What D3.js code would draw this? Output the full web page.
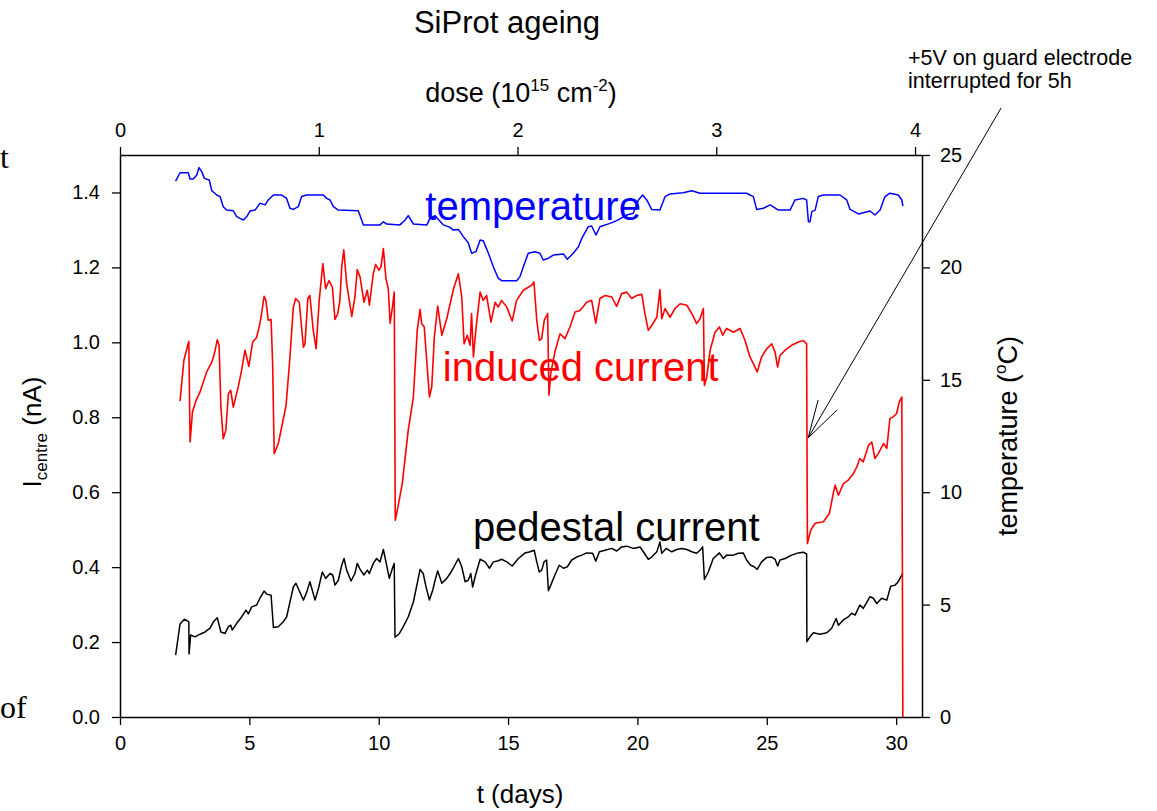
<!DOCTYPE html>
<html>
<head>
<meta charset="utf-8">
<script src="https://cdn.jsdelivr.net/npm/d3@7"></script>
<style>
  body { margin: 0; background: #fff; }
  text { font-family: "Liberation Sans", Arial, sans-serif; }
</style>
</head>
<body>
<div id="chart"></div>
<script>
// ---- data ----
// temperature (deg C) vs t (days)
var temperature = [[2.15,23.84],[2.32,24.21],[2.64,24.21],[2.71,23.93],[2.83,23.93],[2.97,24.11],[3.05,24.44],[3.16,24.26],[3.26,23.96],[3.45,23.89],[3.55,23.41],[3.74,23.22],[3.87,23.15],[3.99,22.70],[4.12,22.55],[4.38,22.52],[4.51,22.26],[4.64,22.18],[4.77,22.11],[4.90,22.26],[5.03,22.51],[5.22,22.55],[5.41,22.85],[5.61,22.78],[5.73,23.00],[5.93,23.22],[6.25,23.22],[6.44,23.07],[6.57,22.63],[6.70,22.58],[6.89,22.70],[7.02,23.15],[7.22,23.22],[7.86,23.22],[7.99,23.07],[8.12,23.00],[8.25,22.70],[8.44,22.55],[9.21,22.52],[9.41,21.89],[10.05,21.89],[10.18,22.03],[10.31,21.93],[10.82,21.89],[11.02,22.11],[11.14,22.30],[11.34,21.93],[11.86,21.89],[11.98,22.18],[12.18,22.30],[12.50,21.89],[12.76,21.78],[12.88,21.66],[13.08,21.69],[13.27,21.37],[13.46,21.10],[13.59,20.63],[13.76,20.70],[13.92,21.22],[14.04,21.19],[14.24,20.63],[14.43,20.03],[14.62,19.52],[14.75,19.41],[15.33,19.41],[15.46,19.59],[15.59,20.03],[15.78,20.63],[16.04,20.70],[16.23,20.63],[16.36,20.33],[16.56,20.41],[16.75,20.55],[17.14,20.60],[17.29,20.36],[17.52,20.63],[17.72,20.92],[17.85,21.29],[18.10,21.81],[18.23,21.84],[18.40,21.44],[18.55,21.81],[18.94,21.96],[19.20,22.08],[19.59,22.33],[19.84,22.41],[20.04,23.00],[20.20,23.22],[20.36,23.00],[20.55,22.58],[20.87,22.55],[21.07,23.15],[21.26,23.27],[21.77,23.32],[22.10,23.41],[22.42,23.30],[24.22,23.30],[24.48,23.15],[24.61,22.58],[24.87,22.63],[25.13,22.78],[25.45,22.55],[25.90,22.55],[26.09,23.00],[26.41,23.07],[26.54,23.00],[26.61,22.03],[26.67,22.03],[26.74,22.48],[26.87,22.55],[26.99,23.15],[27.19,23.22],[27.83,23.22],[28.09,23.00],[28.22,22.58],[28.54,22.38],[28.99,22.51],[29.18,22.33],[29.38,22.55],[29.57,23.15],[29.76,23.30],[30.08,23.22],[30.22,23.00],[30.26,22.73]];

// induced current (nA) vs t (days)
var inducedCurrent = [[2.32,0.843],[2.47,0.952],[2.66,1.003],[2.71,0.734],[2.80,0.814],[2.94,0.845],[3.09,0.867],[3.35,0.921],[3.55,0.947],[3.65,0.970],[3.76,1.007],[3.83,0.992],[3.90,0.827],[3.99,0.743],[4.09,0.765],[4.19,0.863],[4.28,0.872],[4.38,0.827],[4.57,0.881],[4.70,0.925],[4.83,0.979],[4.98,0.936],[5.13,1.001],[5.28,1.013],[5.39,1.045],[5.45,1.066],[5.57,1.123],[5.64,1.112],[5.73,1.059],[5.84,1.061],[5.90,0.943],[5.96,0.703],[6.12,0.730],[6.25,0.774],[6.42,0.832],[6.57,0.961],[6.70,1.094],[6.79,1.117],[6.93,1.107],[7.09,0.987],[7.15,0.996],[7.26,1.117],[7.34,1.125],[7.47,1.032],[7.58,0.983],[7.70,1.112],[7.84,1.210],[7.95,1.143],[8.08,1.165],[8.21,1.147],[8.31,1.061],[8.42,1.077],[8.50,1.112],[8.57,1.201],[8.65,1.247],[8.76,1.157],[8.96,1.069],[9.08,1.121],[9.17,1.194],[9.28,1.174],[9.43,1.107],[9.56,1.139],[9.64,1.099],[9.79,1.183],[9.88,1.208],[10.01,1.192],[10.09,1.203],[10.18,1.250],[10.28,1.170],[10.37,1.143],[10.44,1.051],[10.53,1.094],[10.60,1.134],[10.64,0.525],[10.72,0.552],[10.91,0.623],[11.14,0.765],[11.34,0.854],[11.49,1.032],[11.60,1.088],[11.66,1.050],[11.76,1.041],[11.96,0.854],[12.05,0.881],[12.15,1.014],[12.28,1.097],[12.44,1.019],[12.63,1.063],[12.76,1.103],[12.91,1.147],[13.08,1.183],[13.21,1.121],[13.30,0.996],[13.42,1.019],[13.53,0.992],[13.59,1.077],[13.66,0.961],[13.76,1.037],[13.92,1.134],[14.04,1.112],[14.17,1.125],[14.34,1.054],[14.50,1.107],[14.62,1.094],[14.75,1.112],[14.95,1.094],[15.16,1.057],[15.33,1.112],[15.59,1.139],[15.78,1.147],[15.91,1.152],[16.00,1.161],[16.11,1.059],[16.21,1.005],[16.30,1.010],[16.40,1.059],[16.53,1.077],[16.58,0.859],[16.65,0.917],[16.81,0.974],[17.01,1.023],[17.20,1.010],[17.39,1.041],[17.59,1.081],[17.78,1.085],[18.04,1.107],[18.23,1.112],[18.39,1.051],[18.55,1.117],[18.75,1.125],[19.01,1.121],[19.20,1.096],[19.39,1.130],[19.59,1.134],[19.78,1.117],[19.97,1.125],[20.17,1.128],[20.29,1.077],[20.42,1.032],[20.55,1.045],[20.75,1.067],[20.87,1.141],[20.94,1.063],[21.07,1.090],[21.26,1.067],[21.45,1.090],[21.65,1.103],[21.91,1.099],[22.14,1.072],[22.29,1.050],[22.42,1.063],[22.55,1.090],[22.59,0.885],[22.68,0.907],[22.81,0.979],[23.00,1.027],[23.17,1.041],[23.30,1.019],[23.45,1.037],[23.71,1.027],[23.97,1.037],[24.16,1.005],[24.35,0.961],[24.48,0.943],[24.63,0.921],[24.80,0.961],[25.00,0.983],[25.19,0.996],[25.32,0.974],[25.42,0.934],[25.51,0.965],[25.71,0.979],[25.96,0.992],[26.22,1.001],[26.41,1.005],[26.54,0.996],[26.57,0.463],[26.70,0.499],[26.87,0.517],[27.19,0.521],[27.42,0.543],[27.57,0.597],[27.64,0.619],[27.77,0.592],[27.96,0.623],[28.15,0.632],[28.35,0.650],[28.48,0.667],[28.60,0.690],[28.73,0.681],[28.93,0.725],[29.06,0.734],[29.18,0.690],[29.31,0.703],[29.51,0.730],[29.64,0.717],[29.76,0.797],[29.89,0.801],[30.02,0.810],[30.12,0.841],[30.22,0.854],[30.26,0.0]];

// pedestal current (nA) vs t (days)
var pedestalCurrent = [[2.15,0.165],[2.32,0.248],[2.49,0.261],[2.66,0.254],[2.67,0.168],[2.73,0.219],[2.90,0.214],[3.09,0.221],[3.29,0.227],[3.48,0.237],[3.61,0.254],[3.76,0.265],[3.90,0.227],[4.06,0.223],[4.19,0.241],[4.28,0.245],[4.34,0.232],[4.51,0.250],[4.70,0.267],[4.87,0.285],[4.96,0.275],[5.09,0.294],[5.28,0.299],[5.41,0.317],[5.57,0.336],[5.67,0.328],[5.84,0.325],[5.93,0.239],[6.12,0.241],[6.31,0.254],[6.44,0.267],[6.57,0.307],[6.70,0.347],[6.80,0.357],[6.89,0.343],[7.09,0.312],[7.22,0.334],[7.34,0.361],[7.54,0.312],[7.67,0.343],[7.82,0.387],[7.95,0.370],[8.12,0.383],[8.22,0.379],[8.31,0.352],[8.44,0.365],[8.57,0.405],[8.66,0.423],[8.76,0.392],[8.93,0.363],[9.08,0.383],[9.17,0.410],[9.28,0.394],[9.43,0.379],[9.56,0.392],[9.64,0.383],[9.79,0.410],[9.92,0.423],[10.05,0.414],[10.18,0.447],[10.28,0.414],[10.41,0.370],[10.53,0.397],[10.60,0.410],[10.63,0.213],[10.80,0.223],[10.95,0.241],[11.14,0.267],[11.34,0.307],[11.49,0.357],[11.60,0.394],[11.72,0.383],[11.83,0.347],[11.96,0.312],[12.09,0.339],[12.18,0.365],[12.28,0.390],[12.44,0.357],[12.63,0.370],[12.76,0.383],[12.91,0.401],[13.08,0.423],[13.21,0.401],[13.34,0.361],[13.46,0.365],[13.56,0.383],[13.63,0.347],[13.76,0.383],[13.92,0.421],[14.11,0.414],[14.28,0.397],[14.43,0.414],[14.62,0.417],[14.75,0.421],[14.95,0.414],[15.16,0.403],[15.40,0.423],[15.66,0.438],[15.85,0.441],[16.01,0.445],[16.11,0.414],[16.21,0.387],[16.30,0.392],[16.39,0.414],[16.49,0.419],[16.56,0.337],[16.65,0.352],[16.81,0.379],[16.98,0.405],[17.14,0.397],[17.29,0.401],[17.46,0.419],[17.65,0.427],[17.85,0.432],[18.04,0.438],[18.27,0.437],[18.39,0.416],[18.53,0.441],[18.75,0.445],[19.01,0.450],[19.20,0.443],[19.39,0.454],[19.59,0.456],[19.84,0.450],[20.10,0.454],[20.23,0.441],[20.42,0.421],[20.55,0.427],[20.75,0.441],[20.87,0.467],[20.94,0.437],[21.11,0.450],[21.33,0.441],[21.52,0.447],[21.71,0.450],[21.91,0.447],[22.10,0.441],[22.29,0.437],[22.42,0.445],[22.52,0.454],[22.59,0.367],[22.74,0.387],[22.93,0.423],[23.17,0.438],[23.32,0.423],[23.45,0.432],[23.71,0.432],[23.90,0.437],[24.09,0.438],[24.22,0.419],[24.38,0.405],[24.51,0.401],[24.63,0.394],[24.80,0.414],[25.00,0.426],[25.19,0.427],[25.32,0.421],[25.42,0.403],[25.51,0.419],[25.71,0.423],[25.96,0.432],[26.22,0.438],[26.41,0.440],[26.54,0.435],[26.55,0.201],[26.67,0.214],[26.80,0.225],[27.06,0.221],[27.32,0.225],[27.51,0.237],[27.68,0.263],[27.77,0.245],[27.96,0.259],[28.15,0.267],[28.28,0.277],[28.41,0.272],[28.60,0.299],[28.73,0.290],[28.99,0.321],[29.12,0.317],[29.25,0.303],[29.44,0.317],[29.64,0.312],[29.79,0.349],[29.96,0.352],[30.08,0.361],[30.18,0.374],[30.26,0.383]];

// tick values
var tTicks = [0, 5, 10, 15, 20, 25, 30];
var doseTicks = [0, 1, 2, 3, 4];
var currentTicks = [0, 0.2, 0.4, 0.6, 0.8, 1.0, 1.2, 1.4];
var tempTicks = [0, 5, 10, 15, 20, 25];

// ---- layout ----
var W = 1157, H = 811;
var margin = {top: 155, right: 235, bottom: 94, left: 120},
    width = W - margin.left - margin.right,
    height = H - margin.top - margin.bottom;

var svg = d3.select("#chart")
  .append("svg")
    .attr("width", W)
    .attr("height", H)
    .style("background", "#fff");

var g = svg.append("g")
    .attr("transform", "translate(" + margin.left + "," + margin.top + ")");

// scales
var x = d3.scaleLinear().domain([0, 31]).range([0, width]);
var xDose = d3.scaleLinear().domain([0, 4.035]).range([0, width]);
var yI = d3.scaleLinear().domain([0, 1.5]).range([height, 0]);
var yT = d3.scaleLinear().domain([0, 25]).range([height, 0]);

function styleAxis(sel) {
  sel.selectAll("path.domain").attr("stroke", "#000").attr("stroke-width", 1.5);
  sel.selectAll(".tick line").attr("stroke", "#000").attr("stroke-width", 1.3);
  sel.selectAll(".tick text")
    .attr("fill", "#000")
    .style("font-family", '"Liberation Sans", Arial, sans-serif')
    .style("font-size", "20px");
}

// axes
g.append("g")
  .attr("transform", "translate(0," + height + ")")
  .call(d3.axisBottom(x).tickValues(tTicks).tickSize(8).tickSizeOuter(0).tickPadding(11))
  .call(styleAxis);

g.append("g")
  .call(d3.axisTop(xDose).tickValues(doseTicks).tickFormat(d3.format("d"))
    .tickSize(8).tickSizeOuter(0).tickPadding(10))
  .call(styleAxis);

g.append("g")
  .call(d3.axisLeft(yI).tickValues(currentTicks).tickFormat(d3.format(".1f"))
    .tickSize(8).tickSizeOuter(0).tickPadding(12))
  .call(styleAxis);

g.append("g")
  .attr("transform", "translate(" + width + ",0)")
  .call(d3.axisRight(yT).tickValues(tempTicks).tickSize(8).tickSizeOuter(0).tickPadding(10))
  .call(styleAxis);

// curves
var lineI = d3.line().x(function(d) { return x(d[0]); }).y(function(d) { return yI(d[1]); });
var lineT = d3.line().x(function(d) { return x(d[0]); }).y(function(d) { return yT(d[1]); });

g.append("path").datum(pedestalCurrent)
  .attr("fill", "none").attr("stroke", "#000").attr("stroke-width", 1.5)
  .attr("stroke-linejoin", "round").attr("d", lineI);

g.append("path").datum(inducedCurrent)
  .attr("fill", "none").attr("stroke", "#ff0000").attr("stroke-width", 1.6)
  .attr("stroke-linejoin", "round").attr("d", lineI);

g.append("path").datum(temperature)
  .attr("fill", "none").attr("stroke", "#0000ff").attr("stroke-width", 1.5)
  .attr("stroke-linejoin", "round").attr("d", lineT);

// curve labels
g.append("text").attr("x", x(11.8)).attr("y", yT(22.1))
  .style("font-size", "40px").attr("fill", "#0000ff").text("temperature");
g.append("text").attr("x", x(12.48)).attr("y", yI(0.898))
  .style("font-size", "40px").attr("fill", "#ff0000").text("induced current");
g.append("text").attr("x", x(13.64)).attr("y", yI(0.47))
  .style("font-size", "40px").attr("fill", "#000").text("pedestal current");

// annotation arrow (points at the drop at t = 26.55 d)
var tip = [x(26.6), yI(0.745)];
var tail = [tip[0] + 193, tip[1] - 330];
g.append("line")
  .attr("x1", tail[0]).attr("y1", tail[1]).attr("x2", tip[0]).attr("y2", tip[1])
  .attr("stroke", "#000").attr("stroke-width", 1);
g.append("line")
  .attr("x1", tip[0]).attr("y1", tip[1]).attr("x2", tip[0] + 10).attr("y2", tip[1] - 38)
  .attr("stroke", "#000").attr("stroke-width", 1);
g.append("line")
  .attr("x1", tip[0]).attr("y1", tip[1]).attr("x2", tip[0] + 29).attr("y2", tip[1] - 28)
  .attr("stroke", "#000").attr("stroke-width", 1);

// titles
svg.append("text").attr("x", 507).attr("y", 33).attr("text-anchor", "middle")
  .style("font-size", "31px").text("SiProt ageing");

var dose = svg.append("text").attr("x", 521).attr("y", 102).attr("text-anchor", "middle")
  .style("font-size", "27px");
dose.append("tspan").text("dose (10");
dose.append("tspan").attr("dy", -11).style("font-size", "17px").text("15");
dose.append("tspan").attr("dy", 11).text(" cm");
dose.append("tspan").attr("dy", -11).style("font-size", "17px").text("-2");
dose.append("tspan").attr("dy", 11).text(")");

svg.append("text").attr("x", 520).attr("y", 803).attr("text-anchor", "middle")
  .style("font-size", "26px").text("t (days)");

var yl = svg.append("text")
  .attr("transform", "translate(41,432) rotate(-90)")
  .attr("text-anchor", "middle").style("font-size", "26px");
yl.append("tspan").text("I");
yl.append("tspan").attr("dy", 6).style("font-size", "17px").text("centre");
yl.append("tspan").attr("dy", -6).text(" (nA)");

var yr = svg.append("text")
  .attr("transform", "translate(1017,436) rotate(-90)")
  .attr("text-anchor", "middle").style("font-size", "27px");
yr.append("tspan").text("temperature (");
yr.append("tspan").attr("dy", -11).style("font-size", "17px").text("o");
yr.append("tspan").attr("dy", 11).text("C)");

svg.append("text").attr("x", 908).attr("y", 65)
  .style("font-size", "21.5px").text("+5V on guard electrode");
svg.append("text").attr("x", 908).attr("y", 88)
  .style("font-size", "21.5px").text("interrupted for 5h");

// fragments of surrounding page text at the left edge
svg.append("text").attr("x", 0).attr("y", 168)
  .style("font-family", '"Liberation Serif", "Times New Roman", serif')
  .style("font-size", "32px").text("t");
svg.append("text").attr("x", 0).attr("y", 718)
  .style("font-family", '"Liberation Serif", "Times New Roman", serif')
  .style("font-size", "32px").text("of");
</script>
</body>
</html>
